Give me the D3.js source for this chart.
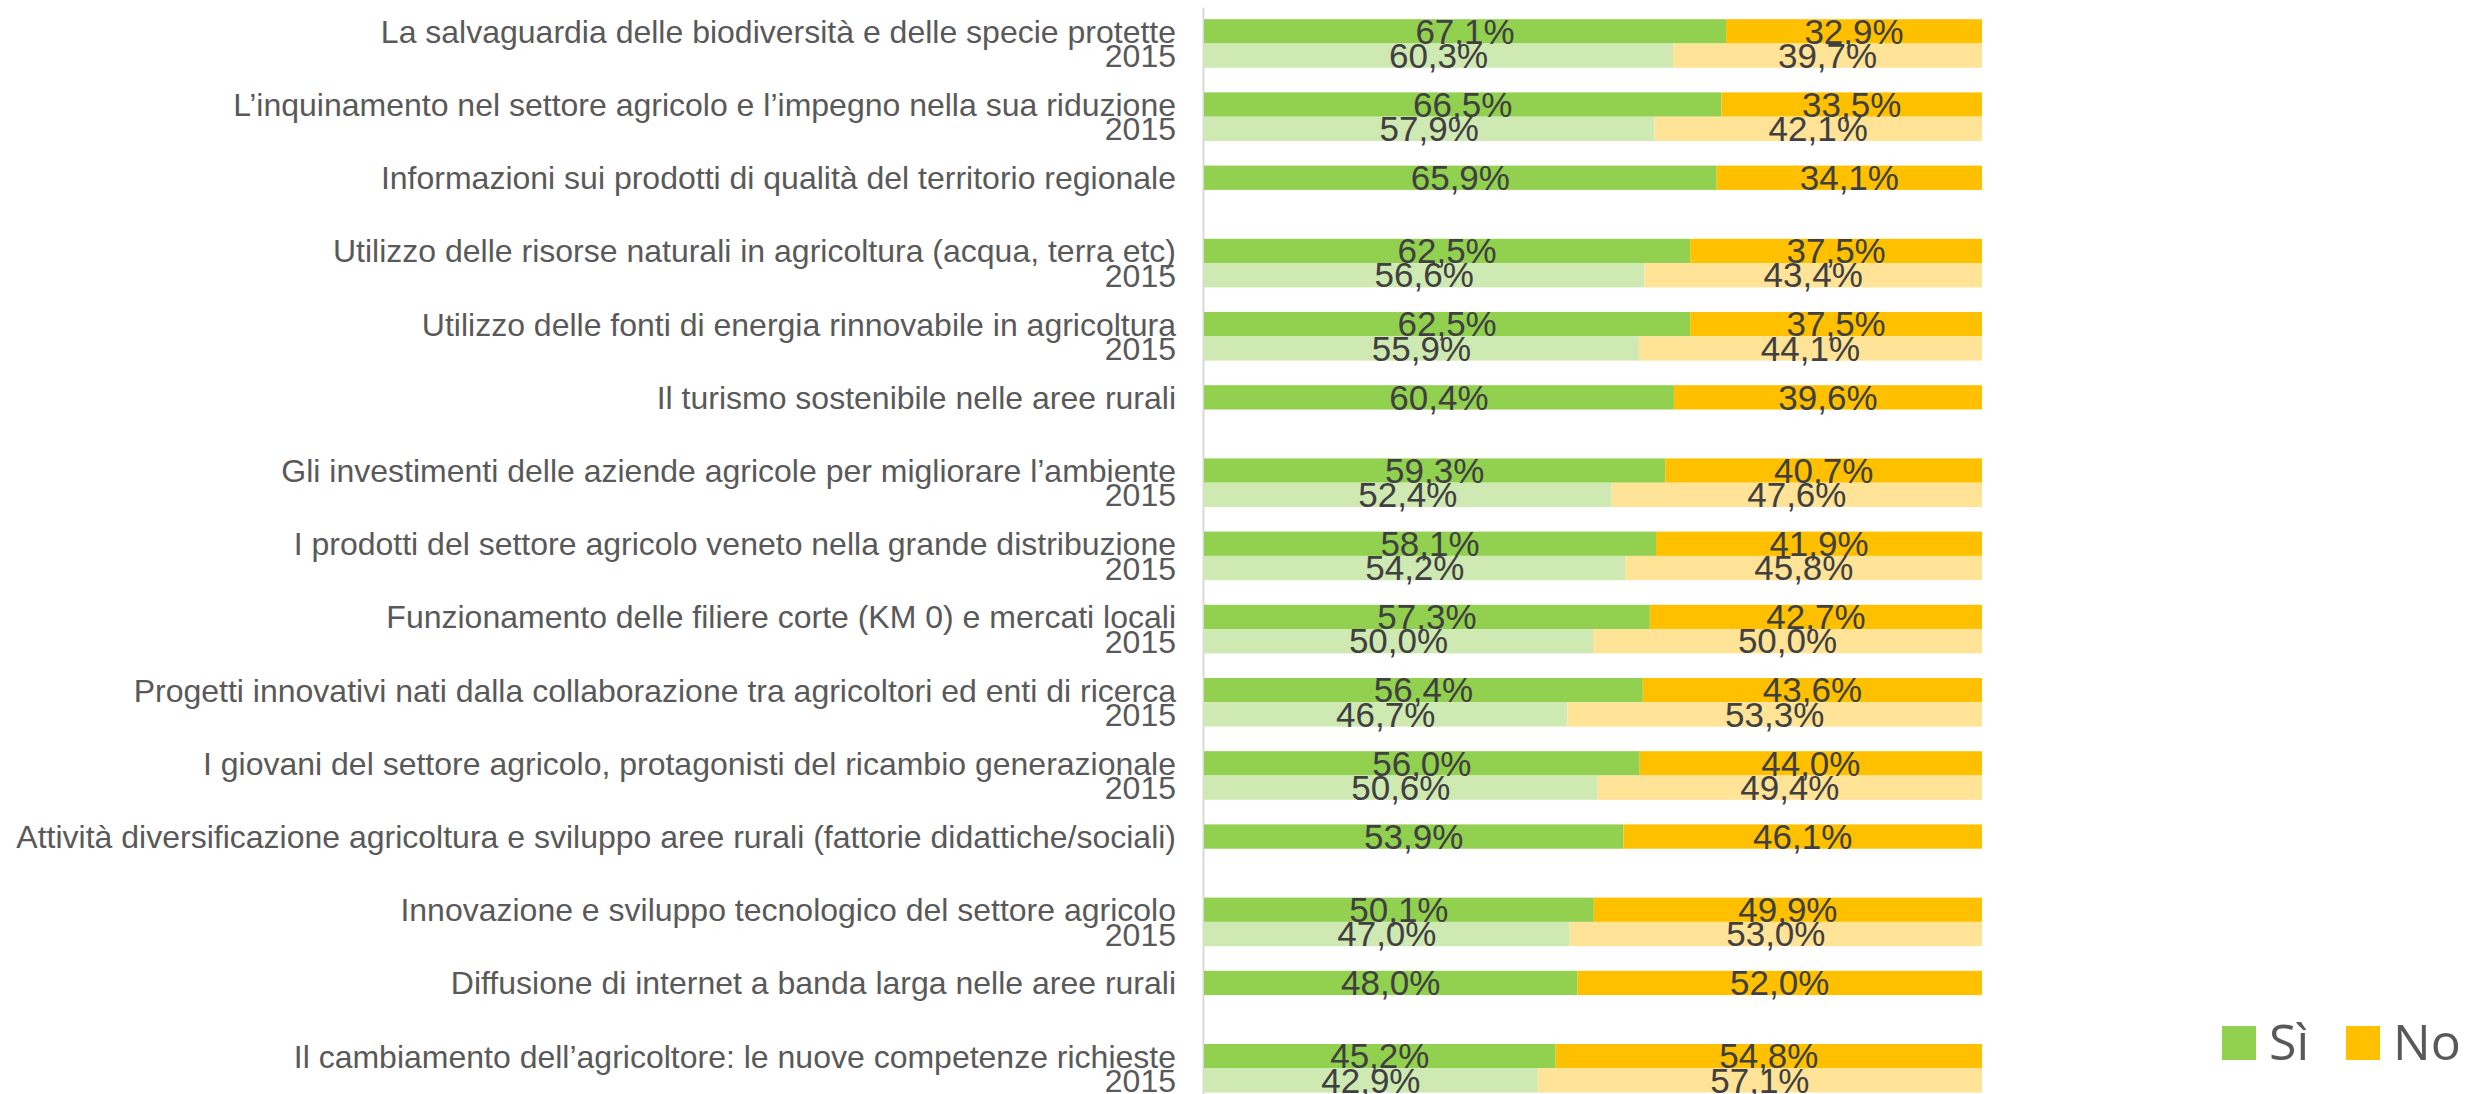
<!DOCTYPE html>
<html>
<head>
<meta charset="utf-8">
<script src="https://cdn.jsdelivr.net/npm/d3@7"></script>
<style>
  html, body { margin: 0; padding: 0; background: #fff; }
  svg { display: block; }
</style>
</head>
<body>
<div id="chart"></div>
<script>
const categories = [
  "La salvaguardia delle biodiversità e delle specie protette",
  "L’inquinamento nel settore agricolo e l’impegno nella sua riduzione",
  "Informazioni sui prodotti di qualità del territorio regionale",
  "Utilizzo delle risorse naturali in agricoltura (acqua, terra etc)",
  "Utilizzo delle fonti di energia rinnovabile in agricoltura",
  "Il turismo sostenibile nelle aree rurali",
  "Gli investimenti delle aziende agricole per migliorare l’ambiente",
  "I prodotti del settore agricolo veneto nella grande distribuzione",
  "Funzionamento delle filiere corte (KM 0) e mercati locali",
  "Progetti innovativi nati dalla collaborazione tra agricoltori ed enti di ricerca",
  "I giovani del settore agricolo, protagonisti del ricambio generazionale",
  "Attività diversificazione agricoltura e sviluppo aree rurali (fattorie didattiche/sociali)",
  "Innovazione e sviluppo tecnologico del settore agricolo",
  "Diffusione di internet a banda larga nelle aree rurali",
  "Il cambiamento dell’agricoltore: le nuove competenze richieste"
];

// current survey
const siNow = [67.1, 66.5, 65.9, 62.5, 62.5, 60.4, 59.3, 58.1, 57.3, 56.4, 56.0, 53.9, 50.1, 48.0, 45.2];
const noNow = [32.9, 33.5, 34.1, 37.5, 37.5, 39.6, 40.7, 41.9, 42.7, 43.6, 44.0, 46.1, 49.9, 52.0, 54.8];
// 2015 survey (null = not asked)
const si2015 = [60.3, 57.9, null, 56.6, 55.9, null, 52.4, 54.2, 50.0, 46.7, 50.6, null, 47.0, null, 42.9];
const no2015 = [39.7, 42.1, null, 43.4, 44.1, null, 47.6, 45.8, 50.0, 53.3, 49.4, null, 53.0, null, 57.1];

const seriesKeys = ["now", "2015"];
const legendLabels = ["Sì", "No"];

const WIDTH = 2465;
const HEIGHT = 1094;
const PLOT = { left: 1204, right: 1982, top: 7, band: 73.2 };
const COLORS = {
  now: ["#92D050", "#FFC000"],
  "2015": ["#CFE9B3", "#FFE397"]
};
const LABEL_COLOR = "#595959";
const VALUE_COLOR = "#404040";

const fmt = (v) => v.toFixed(1).replace(".", ",") + "%";

const rows = [];
categories.forEach((cat, i) => {
  rows.push({ cat, key: "now", si: siNow[i], no: noNow[i] });
  if (si2015[i] != null) rows.push({ cat, key: "2015", si: si2015[i], no: no2015[i] });
});

const svg = d3.select("#chart")
  .append("svg")
  .attr("width", WIDTH)
  .attr("height", HEIGHT)
  .attr("viewBox", `0 0 ${WIDTH} ${HEIGHT}`);

const x = d3.scaleLinear()
  .domain([0, 100])
  .range([PLOT.left, PLOT.right]);

const y = d3.scaleBand()
  .domain(categories)
  .range([PLOT.top, PLOT.top + categories.length * PLOT.band]);

const ySub = d3.scaleBand()
  .domain(seriesKeys)
  .range([12.2, 60.8]);

const barY = (d) => y(d.cat) + ySub(d.key);

// axis line (no ticks)
svg.append("g")
  .attr("transform", `translate(${PLOT.left - 1},0)`)
  .call(d3.axisLeft(y).tickSize(0).tickSizeOuter(0).tickFormat(""))
  .call((g) => g.select(".domain").attr("stroke", "#D9D9D9").attr("stroke-width", 2));

// bars
const bars = svg.append("g");
bars.selectAll("rect.si")
  .data(rows)
  .join("rect")
  .attr("class", "si")
  .attr("x", x(0))
  .attr("y", barY)
  .attr("width", (d) => x(d.si) - x(0))
  .attr("height", ySub.bandwidth())
  .attr("fill", (d) => COLORS[d.key][0]);

bars.selectAll("rect.no")
  .data(rows)
  .join("rect")
  .attr("class", "no")
  .attr("x", (d) => x(d.si))
  .attr("y", barY)
  .attr("width", (d) => x(100) - x(d.si))
  .attr("height", ySub.bandwidth())
  .attr("fill", (d) => COLORS[d.key][1]);

// value labels
const vals = svg.append("g")
  .attr("font-family", "'Liberation Sans', Arial, sans-serif")
  .attr("font-size", 35)
  .attr("fill", VALUE_COLOR)
  .attr("text-anchor", "middle");

vals.selectAll("text.si")
  .data(rows)
  .join("text")
  .attr("x", (d) => (x(0) + x(d.si)) / 2)
  .attr("y", (d) => barY(d) + ySub.bandwidth())
  .text((d) => fmt(d.si));

vals.selectAll("text.no")
  .data(rows)
  .join("text")
  .attr("x", (d) => (x(d.si) + x(100)) / 2)
  .attr("y", (d) => barY(d) + ySub.bandwidth())
  .text((d) => fmt(d.no));

// category labels
const labels = svg.append("g")
  .attr("font-family", "'Liberation Sans', Arial, sans-serif")
  .attr("font-size", 32)
  .attr("fill", LABEL_COLOR)
  .attr("text-anchor", "end");

labels.selectAll("text")
  .data(rows)
  .join("text")
  .attr("x", PLOT.left - 28)
  .attr("y", (d) => barY(d) + ySub.bandwidth() / 2)
  .attr("dy", "0.36em")
  .text((d) => (d.key === "now" ? d.cat : "2015"));

// legend
const legend = svg.append("g")
  .attr("font-family", "'Open Sans', 'Noto Sans', sans-serif")
  .attr("font-size", 50)
  .attr("fill", LABEL_COLOR);

const legendX = [2222, 2346];
legendLabels.forEach((lab, i) => {
  legend.append("rect")
    .attr("x", legendX[i])
    .attr("y", 1026)
    .attr("width", 34)
    .attr("height", 34)
    .attr("fill", COLORS.now[i]);
  legend.append("text")
    .attr("x", legendX[i] + 47)
    .attr("y", 1060)
    .text(lab);
});
</script>
</body>
</html>
